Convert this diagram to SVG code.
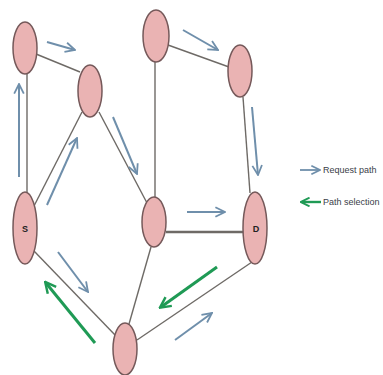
<svg xmlns="http://www.w3.org/2000/svg" width="383" height="375" viewBox="0 0 383 375">
  <defs>
    <style>
      .node { fill: #eab3b3; stroke: #75595a; stroke-width: 1.5; }
      .edge { stroke: #6e6a66; stroke-width: 1.4; fill: none; }
      .req { stroke: #6f8fab; stroke-width: 2; fill: none; marker-end: url(#headBlue); }
      .sel { stroke: #1f9a55; stroke-width: 3; fill: none; marker-end: url(#headGreen); }
      .lbl { font-family: "Liberation Sans", Arial, sans-serif; font-size: 9px; font-weight: bold; fill: #222; text-anchor: middle; }
      .legend { font-family: "Liberation Sans", Arial, sans-serif; font-size: 9px; fill: #3a4048; }
    </style>
    <marker id="headBlue" viewBox="0 0 10 10" refX="9" refY="5" markerWidth="6" markerHeight="6" orient="auto" markerUnits="strokeWidth">
      <path d="M1,1 L9,5 L1,9" fill="none" stroke="#6f8fab" stroke-width="1.5"/>
    </marker>
    <marker id="headGreen" viewBox="0 0 10 10" refX="8" refY="5" markerWidth="4.5" markerHeight="4.5" orient="auto" markerUnits="strokeWidth">
      <path d="M1,1 L9,5 L1,9" fill="none" stroke="#1f9a55" stroke-width="1.8"/>
    </marker>
  </defs>
  <rect width="383" height="375" fill="#ffffff"/>

  <!-- links between nodes -->
  <g id="connectors">
    <line class="edge" x1="27" y1="74" x2="27" y2="192"/>
    <line class="edge" x1="36" y1="54" x2="80" y2="72"/>
    <line class="edge" x1="82" y1="112" x2="34" y2="206"/>
    <line class="edge" x1="99" y1="112" x2="147" y2="203"/>
    <line class="edge" x1="155" y1="62" x2="155" y2="197"/>
    <line class="edge" x1="168" y1="45" x2="229" y2="67"/>
    <line class="edge" x1="243" y1="97" x2="250" y2="193"/>
    <line class="edge" x1="166" y1="232" x2="243" y2="232" style="stroke-width:2.5"/>
    <line class="edge" x1="34" y1="251" x2="116" y2="336"/>
    <line class="edge" x1="151" y1="247" x2="129" y2="324"/>
    <line class="edge" x1="252" y1="262" x2="137" y2="340"/>

    <!-- request path arrows -->
    <line class="req" x1="19" y1="177" x2="19" y2="84"/>
    <line class="req" x1="47" y1="42" x2="75" y2="50"/>
    <line class="req" x1="47" y1="205" x2="77" y2="138"/>
    <line class="req" x1="113" y1="117" x2="137" y2="174"/>
    <line class="req" x1="183" y1="30" x2="218" y2="50"/>
    <line class="req" x1="252" y1="107" x2="258" y2="175"/>
    <line class="req" x1="187" y1="212" x2="225" y2="212"/>
    <line class="req" x1="58" y1="252" x2="88" y2="292"/>
    <line class="req" x1="175" y1="340" x2="212" y2="313"/>

    <!-- path selection arrows -->
    <line class="sel" x1="217" y1="267" x2="161" y2="307"/>
    <line class="sel" x1="95" y1="343" x2="46" y2="283"/>
  </g>

  <g id="n1"><ellipse class="node" cx="25" cy="48" rx="12" ry="26"/></g>
  <g id="n2"><ellipse class="node" cx="90" cy="91" rx="12" ry="26"/></g>
  <g id="n3"><ellipse class="node" cx="156" cy="36" rx="13" ry="26"/></g>
  <g id="n4"><ellipse class="node" cx="240" cy="71" rx="12" ry="26"/></g>
  <g id="nS">
    <ellipse class="node" cx="25" cy="228" rx="12" ry="36"/>
    <text class="lbl" x="25" y="232">S</text>
  </g>
  <g id="n5"><ellipse class="node" cx="154" cy="222" rx="12" ry="25"/></g>
  <g id="nD">
    <ellipse class="node" cx="255" cy="228" rx="12" ry="36"/>
    <text class="lbl" x="256" y="232">D</text>
  </g>
  <g id="n6"><ellipse class="node" cx="125" cy="349" rx="12" ry="26"/></g>

  <!-- key -->
  <g id="legend">
    <line class="req" x1="300" y1="170" x2="320" y2="170" style="stroke-width:1.8"/>
    <text class="legend" x="323" y="173">Request path</text>
    <line class="sel" x1="321" y1="202" x2="302" y2="202" style="stroke-width:2.4"/>
    <text class="legend" x="323" y="205">Path selection</text>
  </g>
</svg>
